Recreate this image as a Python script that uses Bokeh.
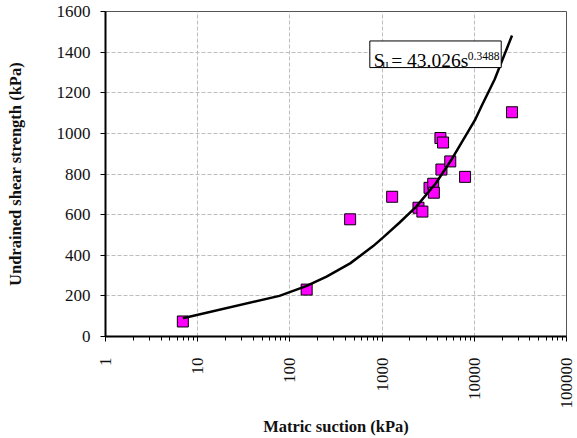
import math
from bokeh.plotting import figure
from bokeh.models import (Range1d, FixedTicker, CustomJSTickFormatter, BoxAnnotation,
                          Label, ColumnDataSource)
from bokeh.embed import file_html
from bokeh.resources import INLINE

# ---- data ----
suction = [6.9, 152, 450, 1285, 2480, 2735, 3270, 3585, 3640, 4290, 4400, 4585, 5485, 7940, 25650]
strength = [74, 231, 577, 688, 634, 615, 732, 752, 708, 977, 822, 955, 862, 786, 1104]

trend_s = [6.9, 77, 150, 250, 450, 800, 1020, 1540, 2320, 3790, 5720, 10150, 12000, 16600, 25650]
trend_su = [90, 200, 248, 295, 360, 445, 487, 560, 637, 752, 874, 1065, 1135, 1265, 1482]

x_ticks = [1, 10, 100, 1000, 10000, 100000]
x_tick_labels = ["1", "10", "100", "1000", "10000", "100000"]
y_ticks = [0, 200, 400, 600, 800, 1000, 1200, 1400, 1600]
y_tick_labels = ["0", "200", "400", "600", "800", "1000", "1200", "1400", "1600"]

FONT = "Liberation Serif"

p = figure(width=577, height=438, x_axis_type="log",
           x_range=Range1d(1, 100000), y_range=Range1d(0, 1600),
           output_backend="svg", toolbar_location=None,
           min_border_left=105, min_border_right=11, min_border_top=11, min_border_bottom=100)

p.background_fill_color = "white"
p.border_fill_color = "white"
p.outline_line_color = "#555555"
p.outline_line_width = 1

LABEL_JS = "const i = tks.indexOf(tick); return i >= 0 ? labs[i] : String(tick);"

minor = [m * 10 ** k for k in range(0, 5) for m in range(2, 10)]
p.xaxis.ticker = FixedTicker(ticks=x_ticks, minor_ticks=minor)
p.xaxis.formatter = CustomJSTickFormatter(args=dict(tks=x_ticks, labs=x_tick_labels), code=LABEL_JS)
p.yaxis.ticker = FixedTicker(ticks=y_ticks)
p.yaxis.formatter = CustomJSTickFormatter(args=dict(tks=y_ticks, labs=y_tick_labels), code=LABEL_JS)

for ax in (p.xaxis[0], p.yaxis[0]):
    ax.axis_line_color = "black"
    ax.axis_line_width = 2
    ax.major_tick_line_color = "black"
    ax.major_tick_line_width = 1
    ax.major_tick_in = 0
    ax.major_tick_out = 5
    ax.major_label_text_font = FONT
    ax.major_label_text_font_size = "17px"
    ax.major_label_text_color = "#111111"
    ax.axis_label_text_font = FONT
    ax.axis_label_text_font_style = "bold"
    ax.axis_label_text_font_size = "16.5px"
    ax.axis_label_text_color = "#111111"

p.xaxis.minor_tick_line_color = "black"
p.xaxis.minor_tick_in = 0
p.xaxis.minor_tick_out = 4
p.yaxis.minor_tick_line_color = None

p.xaxis.major_label_orientation = math.pi / 2
p.xaxis.major_label_standoff = 16
p.xaxis.axis_label_standoff = 5
p.yaxis.major_label_standoff = 10
p.yaxis.axis_label_standoff = 29

p.xaxis.axis_label = "Matric suction (kPa)"
p.yaxis.axis_label = "Undrained shear strength (kPa)"

for g in (p.xgrid[0], p.ygrid[0]):
    g.grid_line_color = "#bdbdbd"
    g.grid_line_dash = "4 2"
    g.grid_line_width = 1
p.xgrid.ticker = FixedTicker(ticks=x_ticks)
p.ygrid.ticker = FixedTicker(ticks=y_ticks)

pts = ColumnDataSource(dict(x=suction, y=strength))
p.scatter("x", "y", source=pts, marker="square", size=11,
          fill_color="#ff00ff", line_color="black", line_width=1)

trend = ColumnDataSource(dict(x=trend_s, y=trend_su))
p.line("x", "y", source=trend, line_color="black", line_width=2.5)

# equation box
p.add_layout(BoxAnnotation(left=736, right=19580, bottom=1324, top=1455,
                           fill_color="white", fill_alpha=1,
                           line_color="black", line_alpha=1, line_width=1))
p.add_layout(Label(x=813, y=1360, text="S", text_font=FONT, text_font_size="19.5px",
                   text_color="black", text_baseline="alphabetic"))
p.add_layout(Label(x=1003, y=1344, text="u", text_font=FONT, text_font_size="12.5px",
                   text_color="black", text_baseline="alphabetic"))
p.add_layout(Label(x=1255, y=1360, text="= 43.026s", text_font=FONT, text_font_size="19.5px",
                   text_color="black", text_baseline="alphabetic"))
p.add_layout(Label(x=8503, y=1380, text="0.3488", text_font=FONT, text_font_size="11.5px",
                   text_color="black", text_baseline="alphabetic"))

open("out.html", "w").write(file_html(p, INLINE))
